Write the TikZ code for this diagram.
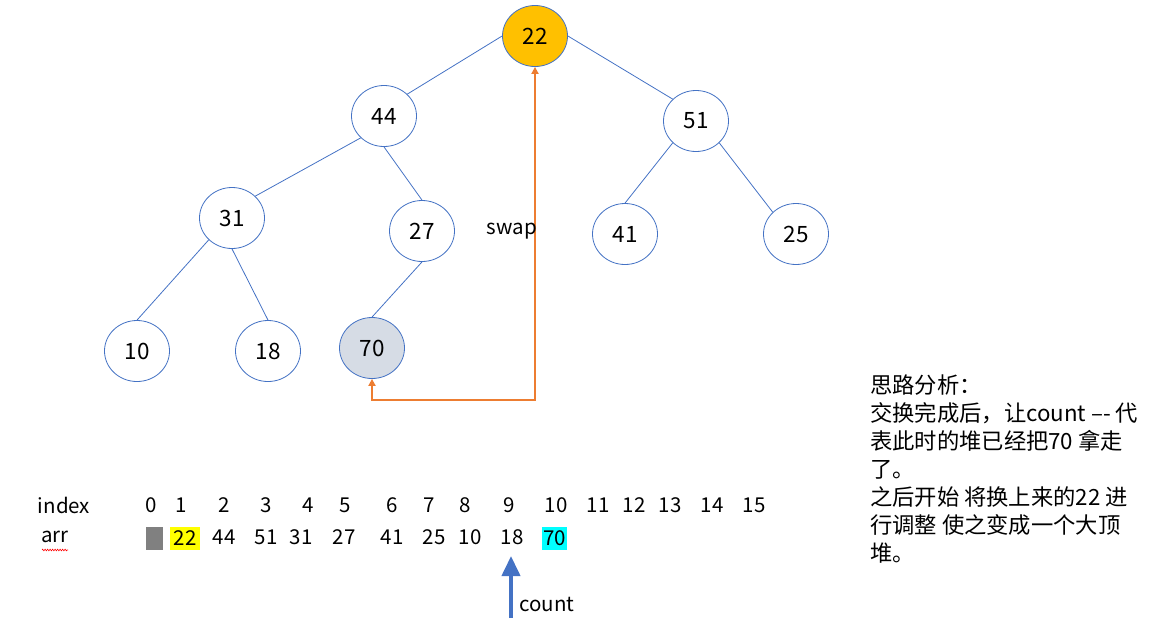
\documentclass[tikz,border=0pt]{standalone}
\usepackage{fontspec}
\setmainfont{Noto Sans CJK SC}
\usetikzlibrary{shapes.geometric,arrows.meta,decorations.pathmorphing}
\definecolor{edgeblue}{HTML}{4472C4}
\definecolor{rootfill}{HTML}{FFC000}
\definecolor{lastfill}{HTML}{D6DCE5}
\definecolor{swaporange}{HTML}{ED7D31}
\definecolor{hlcyan}{HTML}{00FFFF}
\definecolor{hlyellow}{HTML}{FFFF00}
\definecolor{boxgray}{HTML}{808080}
\begin{document}
\begin{tikzpicture}[x=1pt,y=-1pt,
  heapnode/.style={ellipse,draw=edgeblue,line width=0.8pt,fill=white,minimum width=65pt,minimum height=61pt,inner sep=0pt,font=\fontsize{22.5}{22.5}\selectfont},
  treeedge/.style={draw=edgeblue,line width=0.8pt},
  idx/.style={font=\fontsize{20.5}{20.5}\selectfont,inner sep=0pt},
  lbl/.style={font=\fontsize{20.5}{20.5}\selectfont,inner sep=0pt},
  note/.style={font=\fontsize{22.3}{22.3}\selectfont,inner sep=0pt,anchor=base west}]
\useasboundingbox (0,0) rectangle (1152,630);
% tree nodes
\node[heapnode,fill=rootfill] (n22) at (535,36) {22};
\node[heapnode] (n44) at (384,116) {44};
\node[heapnode] (n51) at (696,121) {51};
\node[heapnode] (n31) at (232,218) {31};
\node[heapnode] (n27) at (422,231) {27};
\node[heapnode] (n41) at (625,234) {41};
\node[heapnode] (n25) at (796,234) {25};
\node[heapnode] (n10) at (137,351) {10};
\node[heapnode] (n18) at (268,351) {18};
\node[heapnode,fill=lastfill] (n70) at (372,348) {70};
% edges
\draw[treeedge] (n22.west) -- (n44.north east);
\draw[treeedge] (n22.east) -- (n51.north west);
\draw[treeedge] (n44.south west) -- (n31.north east);
\draw[treeedge] (n44.south) -- (n27.north);
\draw[treeedge] (n51.south west) -- (n41.north);
\draw[treeedge] (n51.south east) -- (n25.north west);
\draw[treeedge] (n31.south west) -- (n10.north);
\draw[treeedge] (n31.south) -- (n18.north);
\draw[treeedge] (n27.south) -- (n70.north);
% swap arrow
\coordinate (corner) at (535,400);
\draw[swaporange,line width=1.8pt,{Triangle[width=7pt,length=7pt]}-{Triangle[width=7pt,length=7pt]}] (n70.south) |- (corner) -- (n22.south);
\node[lbl] (swap) at (512,231) {swap};
% index row
\node[idx] (index) at (64,505) {index};
\node[idx] (i0) at (151,505) {0};
\node[idx] (i1) at (181,505) {1};
\node[idx] (i2) at (224,505) {2};
\node[idx] (i3) at (266,505) {3};
\node[idx] (i4) at (308,505) {4};
\node[idx] (i5) at (345,505) {5};
\node[idx] (i6) at (392,505) {6};
\node[idx] (i7) at (429,505) {7};
\node[idx] (i8) at (465,505) {8};
\node[idx] (i9) at (509,505) {9};
\node[idx] (i10) at (556,505) {10};
\node[idx] (i11) at (598,505) {11};
\node[idx] (i12) at (634,505) {12};
\node[idx] (i13) at (670,505) {13};
\node[idx] (i14) at (712,505) {14};
\node[idx] (i15) at (754,505) {15};
% arr row
\node[idx] (arr) at (55,537) {arr};
\draw[red,line width=0.6pt,decorate,decoration={zigzag,segment length=2.5pt,amplitude=0.8pt}] (42,550) -- (68,550);
\node[fill=boxgray,minimum width=17pt,minimum height=23pt,inner sep=0pt] (a0) at (154.5,538.5) {};
\node[idx,fill=hlyellow,minimum width=30pt,minimum height=23pt] (a1) at (185,538.5) {22};
\node[idx] (a2) at (224,537) {44};
\node[idx] (a3) at (266,537) {51};
\node[idx] (a4) at (301,537) {31};
\node[idx] (a5) at (344,537) {27};
\node[idx] (a6) at (392,537) {41};
\node[idx] (a7) at (434,537) {25};
\node[idx] (a8) at (470,537) {10};
\node[idx] (a9) at (512,537) {18};
\node[idx,fill=hlcyan,minimum width=25pt,minimum height=23pt] (a10) at (554.5,538.5) {70};
% count arrow
\coordinate (countbase) at (511,618);
\draw[edgeblue,line width=4pt,-{Triangle[width=18pt,length=20pt]}] (countbase) -- (511,556);
\node[lbl,anchor=west] (count) at (519,604) {count};
% note
\node[note] (t1) at (870,393) {思路分析：};
\node[note] (t2) at (870,421) {交换完成后，让count –- 代};
\node[note] (t3) at (870,449) {表此时的堆已经把70 拿走};
\node[note] (t4) at (870,477) {了。};
\node[note] (t5) at (870,505) {之后开始 将换上来的22 进};
\node[note] (t6) at (870,533) {行调整 使之变成一个大顶};
\node[note] (t7) at (870,561) {堆。};
\end{tikzpicture}
\end{document}
